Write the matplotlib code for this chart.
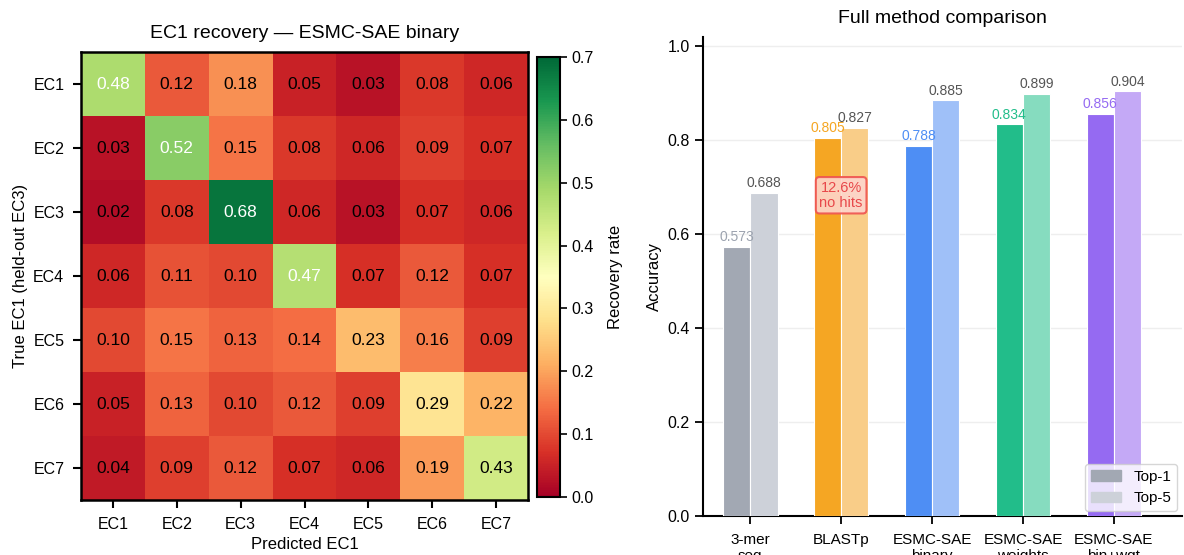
import numpy as np
import matplotlib
matplotlib.use("Agg")
import matplotlib.pyplot as plt
from matplotlib.patches import Patch

plt.rcParams["font.family"] = ["Liberation Sans", "DejaVu Sans"]
plt.rcParams["font.size"] = 11

# heatmap data
ec_labels = ["EC1", "EC2", "EC3", "EC4", "EC5", "EC6", "EC7"]
recovery = np.array([
    [0.48, 0.12, 0.18, 0.05, 0.03, 0.08, 0.06],
    [0.03, 0.52, 0.15, 0.08, 0.06, 0.09, 0.07],
    [0.02, 0.08, 0.68, 0.06, 0.03, 0.07, 0.06],
    [0.06, 0.11, 0.10, 0.47, 0.07, 0.12, 0.07],
    [0.10, 0.15, 0.13, 0.14, 0.23, 0.16, 0.09],
    [0.05, 0.13, 0.10, 0.12, 0.09, 0.29, 0.22],
    [0.04, 0.09, 0.12, 0.07, 0.06, 0.19, 0.43],
])

# bar data
methods = ["3-mer\nseq", "BLASTp", "ESMC-SAE\nbinary", "ESMC-SAE\nweights", "ESMC-SAE\nbin+wgt"]
top1 = [0.573, 0.805, 0.788, 0.834, 0.856]
top5 = [0.688, 0.827, 0.885, 0.899, 0.904]
col1 = ["#a2a8b3", "#f5a623", "#4e8ef4", "#22bd8a", "#956af2"]
col5 = ["#cdd1d9", "#f9cd88", "#9fc0f8", "#86dcbf", "#c4a9f6"]
lab1 = ["#9ca3af", "#f5a623", "#4e8ef4", "#22bd8a", "#956af2"]
blast_nohit = "12.6%\nno hits"

W, H = 1184, 555
fig = plt.figure(figsize=(W / 100, H / 100), dpi=100)

# ---- heatmap
ax = fig.add_axes([81 / W, (H - 500) / H, 447 / W, 448 / H])
im = ax.imshow(recovery, cmap="RdYlGn", vmin=0, vmax=0.7, aspect="auto")
for i in range(recovery.shape[0]):
    for j in range(recovery.shape[1]):
        v = recovery[i, j]
        ax.text(j, i, f"{v:.2f}", ha="center", va="center", fontsize=12.5,
                color="white" if v > 0.45 else "black")
ax.set_xticks(range(7))
ax.set_xticklabels(ec_labels)
ax.set_yticks(range(7))
ax.set_yticklabels(ec_labels)
ax.tick_params(length=6, width=1.5, pad=6, labelsize=11.5)
for s in ax.spines.values():
    s.set_linewidth(1.8)
ax.set_xlabel("Predicted EC1", fontsize=12)
ax.set_ylabel("True EC1 (held-out EC3)", fontsize=12)
ax.set_title("EC1 recovery — ESMC-SAE binary", fontsize=14, pad=10)

cax = fig.add_axes([537 / W, (H - 497) / H, 23 / W, 440 / H])
cb = fig.colorbar(im, cax=cax)
cb.set_ticks(np.arange(0, 0.71, 0.1))
cb.set_label("Recovery rate", fontsize=12, labelpad=10)
cb.outline.set_linewidth(1.5)
cax.tick_params(length=5, width=1.2, labelsize=11.5)

# ---- bars
bx = fig.add_axes([703 / W, (H - 516) / H, 479 / W, 479 / H])
x = np.arange(len(methods))
w = 0.3
bx.bar(x - w / 2, top1, w, color=col1, edgecolor="white", linewidth=0.8, zorder=3)
bx.bar(x + w / 2, top5, w, color=col5, edgecolor="white", linewidth=0.8, zorder=3)
for i in range(len(methods)):
    bx.text(x[i] - w / 2, top1[i] + 0.006, f"{top1[i]:.3f}", ha="center", va="bottom",
            fontsize=10, color=lab1[i], zorder=4)
    bx.text(x[i] + w / 2, top5[i] + 0.006, f"{top5[i]:.3f}", ha="center", va="bottom",
            fontsize=10, color="#555555", zorder=4)
bx.text(x[1], 0.683, blast_nohit, ha="center", va="center", fontsize=10.5,
        color="#e8484a", zorder=5, linespacing=1.1,
        bbox=dict(boxstyle="round,pad=0.25", facecolor="#fdd5cc", edgecolor="#ef5350",
                  linewidth=1.5, alpha=0.9))
bx.set_xlim(-0.52, 4.75)
bx.set_ylim(0, 1.02)
bx.set_yticks(np.arange(0, 1.01, 0.2))
bx.set_xticks(x)
bx.set_xticklabels(methods, fontsize=11)
bx.set_ylabel("Accuracy", fontsize=12)
bx.set_title("Full method comparison", fontsize=14, pad=10)
bx.grid(axis="y", color="#eeeeee", linewidth=1, zorder=0)
bx.spines["top"].set_visible(False)
bx.spines["right"].set_visible(False)
bx.spines["left"].set_linewidth(1.5)
bx.spines["bottom"].set_linewidth(1.5)
bx.tick_params(length=6, width=1.3, labelsize=11.5)
bx.tick_params(axis="x", labelsize=11, pad=6)
handles = [Patch(color="#a2a8b3", label="Top-1"), Patch(color="#cdd1d9", label="Top-5")]
bx.legend(handles=handles, loc="lower right", fontsize=11, framealpha=0.8,
          borderaxespad=0.3)

fig.savefig("out.png", dpi=100)
